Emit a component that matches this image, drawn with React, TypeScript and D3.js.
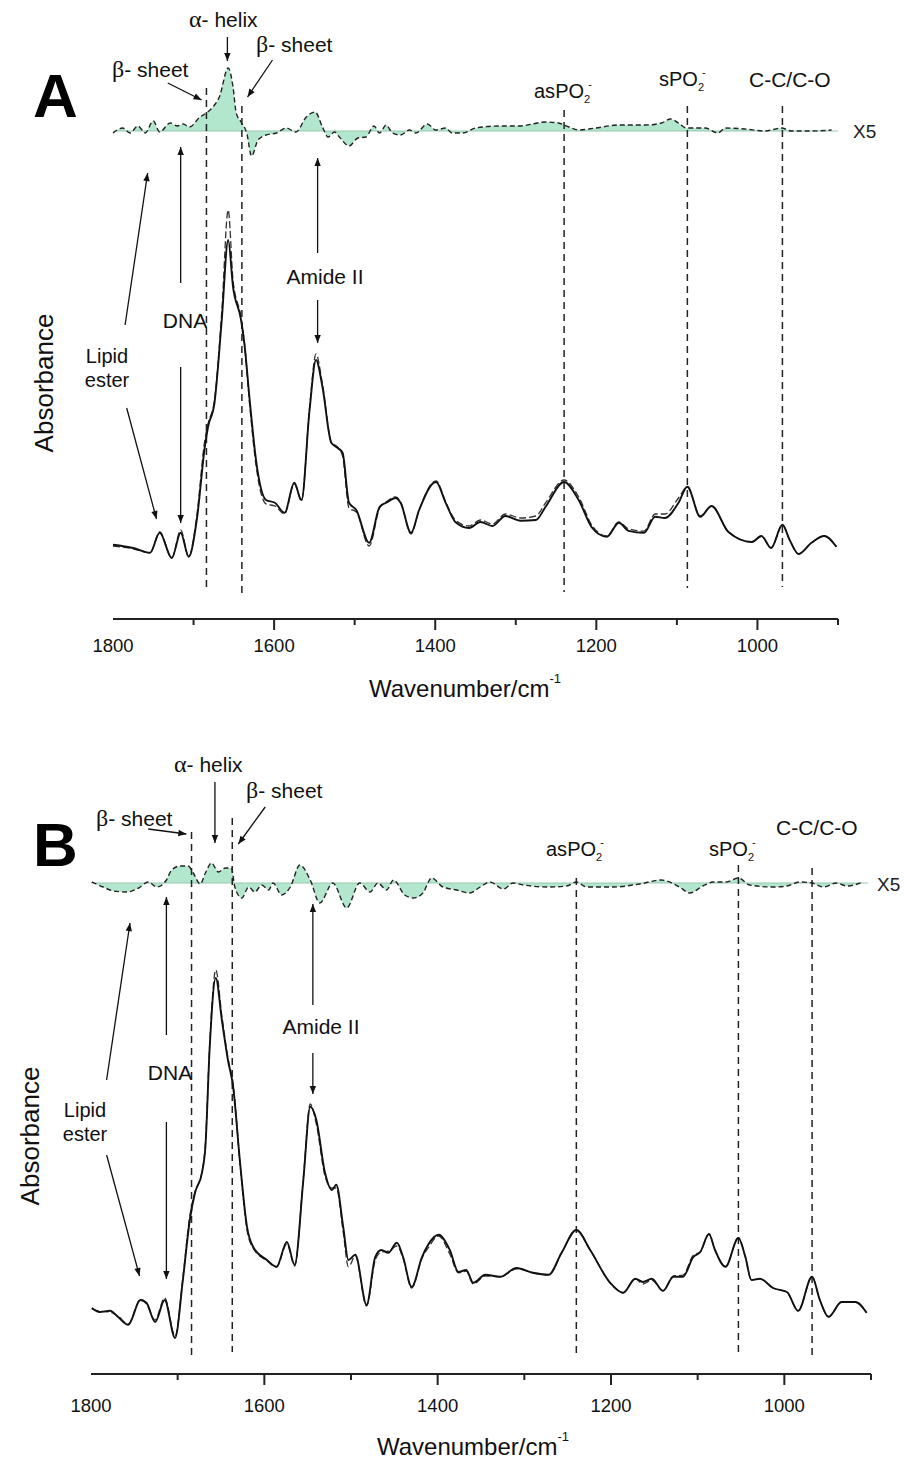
import React from "react";
import * as d3 from "d3";

type P = [number, number];

// x-axis ticks (wavenumber, cm-1)
const majorTicks = [1800, 1600, 1400, 1200, 1000];
const minorTicks = [1700, 1500, 1300, 1100, 900];

// Panel A: absorbance spectra (solid = control, dashed = treated)
const specA_solid: P[] = [
  [1800, 0.138], [1775, 0.13], [1754, 0.118], [1742, 0.168], [1727, 0.105], [1716, 0.168], [1706, 0.108],
  [1696, 0.2], [1686, 0.383], [1682, 0.433], [1674, 0.493], [1665, 0.7], [1657, 0.9], [1651, 0.783],
  [1641, 0.7], [1637, 0.643], [1630, 0.493], [1622, 0.343], [1610, 0.25], [1599, 0.243], [1587, 0.218],
  [1575, 0.293], [1566, 0.25], [1556, 0.475], [1548, 0.6], [1540, 0.533], [1529, 0.393], [1521, 0.38],
  [1515, 0.368], [1507, 0.243], [1498, 0.225], [1482, 0.143], [1469, 0.233], [1461, 0.243], [1449, 0.255],
  [1443, 0.243], [1430, 0.168], [1420, 0.225], [1399, 0.295], [1387, 0.243], [1375, 0.195], [1358, 0.18],
  [1344, 0.195], [1329, 0.185], [1313, 0.21], [1294, 0.198], [1275, 0.2], [1263, 0.233], [1240, 0.295],
  [1222, 0.25], [1205, 0.18], [1187, 0.158], [1172, 0.193], [1160, 0.173], [1141, 0.168], [1127, 0.208],
  [1115, 0.205], [1098, 0.243], [1087, 0.283], [1071, 0.208], [1057, 0.235], [1036, 0.17], [1007, 0.145],
  [995, 0.16], [983, 0.13], [969, 0.188], [960, 0.15], [949, 0.115], [933, 0.143], [917, 0.16], [902, 0.133],
];
const specA_dashed: P[] = [
  [1800, 0.135], [1775, 0.128], [1754, 0.118], [1742, 0.17], [1727, 0.105], [1716, 0.175], [1706, 0.108],
  [1696, 0.21], [1686, 0.4], [1682, 0.44], [1674, 0.5], [1665, 0.72], [1657, 0.975], [1651, 0.8],
  [1641, 0.705], [1637, 0.645], [1630, 0.48], [1622, 0.33], [1610, 0.24], [1599, 0.235], [1587, 0.215],
  [1575, 0.29], [1566, 0.248], [1556, 0.48], [1548, 0.615], [1540, 0.54], [1529, 0.395], [1521, 0.382],
  [1515, 0.36], [1507, 0.23], [1498, 0.22], [1482, 0.135], [1469, 0.23], [1461, 0.245], [1449, 0.258],
  [1443, 0.245], [1430, 0.165], [1420, 0.225], [1399, 0.298], [1387, 0.245], [1375, 0.2], [1358, 0.185],
  [1344, 0.2], [1329, 0.19], [1313, 0.215], [1294, 0.205], [1275, 0.21], [1263, 0.243], [1240, 0.3],
  [1222, 0.258], [1205, 0.185], [1187, 0.16], [1172, 0.195], [1160, 0.178], [1141, 0.172], [1127, 0.215],
  [1115, 0.215], [1098, 0.255], [1087, 0.283], [1071, 0.21], [1057, 0.235], [1036, 0.17], [1007, 0.145],
  [995, 0.16], [983, 0.13], [969, 0.188], [960, 0.15], [949, 0.115], [933, 0.143], [917, 0.16], [902, 0.133],
];
// Panel A: second derivative difference (x5)
const derivA: P[] = [
  [1800, -0.2], [1788, 0.3], [1779, -0.2], [1769, 0.5], [1760, -0.2], [1750, 1.0], [1742, -0.1], [1729, 0.8],
  [1720, 0.5], [1713, 0.7], [1705, 0.4], [1692, 1.4], [1684, 1.8], [1674, 2.6], [1668, 3.4], [1657, 6.3],
  [1651, 4.4], [1647, 1.8], [1641, 0.9], [1634, -0.2], [1628, -2.5], [1620, -0.9], [1610, -0.4], [1597, -0.2],
  [1585, 0.3], [1573, -0.1], [1560, 1.4], [1549, 1.9], [1540, 0.4], [1533, -0.6], [1525, -0.1], [1519, -0.6],
  [1507, -1.5], [1496, -0.7], [1486, -0.6], [1476, 0.5], [1469, -0.2], [1461, 0.6], [1453, -0.2], [1443, -0.4],
  [1432, 0.1], [1424, -0.2], [1410, 0.7], [1399, 0.1], [1387, 0.3], [1379, -0.2], [1366, -0.2], [1350, 0.3],
  [1321, 0.5], [1296, 0.5], [1263, 0.9], [1247, 0.8], [1234, 0.4], [1222, 0.1], [1201, 0.3], [1172, 0.6],
  [1139, 0.6], [1119, 0.8], [1108, 1.2], [1098, 0.8], [1088, 0.3], [1065, 0.3], [1049, -0.2], [1040, 0.3],
  [1016, 0.2], [991, 0.0], [970, 0.3], [958, 0.0], [933, 0.0], [908, 0.1],
];
const bandsA = [1684, 1640, 1240, 1087, 969];

// Panel B
const specB_solid: P[] = [
  [1799, 0.13], [1790, 0.12], [1778, 0.123], [1769, 0.108], [1757, 0.088], [1743, 0.15], [1736, 0.143],
  [1726, 0.095], [1715, 0.15], [1703, 0.055], [1694, 0.2], [1686, 0.35], [1680, 0.418], [1672, 0.468],
  [1668, 0.533], [1663, 0.783], [1656, 0.955], [1649, 0.85], [1642, 0.75], [1636, 0.683], [1628, 0.493],
  [1620, 0.333], [1613, 0.283], [1597, 0.25], [1586, 0.233], [1574, 0.295], [1565, 0.238], [1555, 0.45],
  [1547, 0.633], [1540, 0.6], [1530, 0.468], [1522, 0.425], [1517, 0.438], [1509, 0.333], [1503, 0.25],
  [1495, 0.263], [1482, 0.138], [1472, 0.258], [1465, 0.275], [1457, 0.268], [1447, 0.293], [1440, 0.258],
  [1430, 0.183], [1418, 0.258], [1411, 0.288], [1399, 0.313], [1386, 0.275], [1376, 0.22], [1367, 0.225],
  [1359, 0.193], [1345, 0.213], [1328, 0.208], [1309, 0.23], [1290, 0.218], [1272, 0.213], [1257, 0.268],
  [1240, 0.325], [1224, 0.275], [1201, 0.193], [1186, 0.168], [1172, 0.203], [1163, 0.195], [1153, 0.203],
  [1140, 0.173], [1128, 0.208], [1117, 0.208], [1105, 0.258], [1097, 0.27], [1087, 0.315], [1080, 0.275],
  [1068, 0.233], [1053, 0.305], [1045, 0.258], [1038, 0.2], [1028, 0.203], [1013, 0.18], [997, 0.17],
  [984, 0.123], [968, 0.208], [959, 0.15], [949, 0.108], [934, 0.145], [918, 0.145], [905, 0.118],
];
const specB_dashed: P[] = [
  [1799, 0.128], [1790, 0.122], [1778, 0.12], [1769, 0.11], [1757, 0.09], [1743, 0.152], [1736, 0.14],
  [1726, 0.1], [1715, 0.155], [1703, 0.06], [1694, 0.205], [1686, 0.36], [1680, 0.42], [1672, 0.47],
  [1668, 0.54], [1663, 0.79], [1656, 0.975], [1649, 0.86], [1642, 0.755], [1636, 0.69], [1628, 0.49],
  [1620, 0.325], [1613, 0.28], [1597, 0.248], [1586, 0.232], [1574, 0.29], [1565, 0.235], [1555, 0.455],
  [1547, 0.64], [1540, 0.59], [1530, 0.46], [1522, 0.43], [1517, 0.43], [1509, 0.32], [1503, 0.233],
  [1495, 0.26], [1482, 0.135], [1472, 0.25], [1465, 0.27], [1457, 0.272], [1447, 0.285], [1440, 0.255],
  [1430, 0.18], [1418, 0.255], [1411, 0.28], [1399, 0.31], [1386, 0.265], [1376, 0.218], [1367, 0.222],
  [1359, 0.19], [1345, 0.21], [1328, 0.208], [1309, 0.228], [1290, 0.218], [1272, 0.213], [1257, 0.268],
  [1240, 0.325], [1224, 0.275], [1201, 0.193], [1186, 0.168], [1172, 0.203], [1163, 0.19], [1153, 0.2],
  [1140, 0.173], [1128, 0.21], [1117, 0.212], [1105, 0.262], [1097, 0.27], [1087, 0.315], [1080, 0.275],
  [1068, 0.233], [1053, 0.305], [1045, 0.258], [1038, 0.2], [1028, 0.203], [1013, 0.18], [997, 0.17],
  [984, 0.123], [968, 0.208], [959, 0.15], [949, 0.108], [934, 0.145], [918, 0.145], [905, 0.118],
];
const derivB: P[] = [
  [1799, 0.1], [1786, -0.4], [1774, -0.8], [1759, -0.9], [1745, -0.5], [1734, 0.1], [1724, -0.4], [1713, 0.3],
  [1707, 1.3], [1697, 1.7], [1688, 1.7], [1682, 1.0], [1674, -0.1], [1668, 1.0], [1661, 2.0], [1653, 1.1],
  [1645, 1.5], [1638, 1.5], [1634, -0.4], [1626, -1.5], [1618, -0.4], [1611, -0.9], [1603, -0.2], [1595, -0.7],
  [1590, 0.0], [1580, -1.2], [1570, -0.4], [1559, 1.8], [1547, 0.3], [1536, -2.0], [1521, 0.0], [1505, -2.5],
  [1490, 0.0], [1478, -0.9], [1469, 0.0], [1459, -0.7], [1451, 0.3], [1438, -1.2], [1428, -1.5], [1417, -1.0],
  [1407, 0.5], [1394, -0.4], [1378, -0.7], [1363, -1.0], [1351, -0.4], [1340, 0.1], [1324, -0.6], [1313, 0.0],
  [1301, -0.2], [1274, -0.4], [1251, -0.3], [1240, 0.1], [1228, -0.4], [1197, -0.4], [1167, -0.1], [1142, 0.3],
  [1121, -0.4], [1109, -1.0], [1094, -0.3], [1082, 0.1], [1067, 0.1], [1053, 0.5], [1040, -0.2], [1013, -0.4],
  [997, -0.3], [982, 0.1], [968, 0.0], [955, -0.4], [940, 0.0], [928, -0.3], [909, 0.1],
];
const bandsB = [1684, 1637, 1240, 1053, 968];

const SANS = "'Liberation Sans', Arial, sans-serif";
const SERIF = "'Liberation Serif', 'DejaVu Serif', serif";
const FILL = "#b2e6cd";

type Arrow = { w1: number; y1: number; w2: number; y2: number };

const layoutA = {
  letter: "A", letterXY: [33, 117],
  xRange: [113, 838], axisY: 619, specRange: [600, 200], zeroY: 131, zeroEnd: 838,
  x5: [853, 138], yLabel: [53, 383], xLabel: [465, 697], tickLabelY: 652,
  bandY: [[88, 592], [106, 598], [110, 592], [106, 588], [106, 587]],
  alpha: [189, 27], betaL: [112, 77], betaR: [256, 52],
  asPO: [534, 98], sPO: [659, 86], cc: [749, 87],
  lipid: [107, 363], dna: [185, 328], amide: [325, 284],
  arrows: [
    { w1: 1732, y1: 83, w2: 1690, y2: 100 },
    { w1: 1658, y1: 37, w2: 1658, y2: 61 },
    { w1: 1602, y1: 60, w2: 1633, y2: 97 },
    { w1: 1716, y1: 283, w2: 1716, y2: 147 },
    { w1: 1716, y1: 367, w2: 1716, y2: 523 },
    { w1: 1785, y1: 325, w2: 1757, y2: 173 },
    { w1: 1783, y1: 408, w2: 1746, y2: 519 },
    { w1: 1546, y1: 253, w2: 1546, y2: 158 },
    { w1: 1546, y1: 300, w2: 1546, y2: 343 },
  ] as Arrow[],
};
const layoutB = {
  letter: "B", letterXY: [33, 866],
  xRange: [91, 871], axisY: 1374, specRange: [1360, 960], zeroY: 883, zeroEnd: 868,
  x5: [877, 891], yLabel: [39, 1136], xLabel: [473, 1455], tickLabelY: 1412,
  bandY: [[832, 1358], [818, 1352], [878, 1355], [865, 1355], [868, 1356]],
  alpha: [174, 772], betaL: [96, 826], betaR: [246, 798],
  asPO: [546, 856], sPO: [709, 856], cc: [776, 835],
  lipid: [85, 1117], dna: [170, 1080], amide: [321, 1034],
  arrows: [
    { w1: 1734, y1: 829, w2: 1690, y2: 834 },
    { w1: 1657, y1: 782, w2: 1657, y2: 843 },
    { w1: 1599, y1: 807, w2: 1630, y2: 844 },
    { w1: 1713, y1: 1035, w2: 1713, y2: 897 },
    { w1: 1713, y1: 1122, w2: 1713, y2: 1279 },
    { w1: 1782, y1: 1080, w2: 1755, y2: 923 },
    { w1: 1782, y1: 1155, w2: 1744, y2: 1276 },
    { w1: 1544, y1: 1005, w2: 1544, y2: 904 },
    { w1: 1544, y1: 1053, w2: 1544, y2: 1094 },
  ] as Arrow[],
};

function PO({ x, y, pre }: { x: number; y: number; pre: string }) {
  return (
    <text x={x} y={y} fontFamily={SANS} fontSize={20} fill="#111">
      {pre}PO
      <tspan fontSize={11} dy={5}>2</tspan>
      <tspan fontSize={11} dx={-2} dy={-15}>-</tspan>
    </text>
  );
}

function Greek({ x, y, g, rest }: { x: number; y: number; g: string; rest: string }) {
  return (
    <text x={x} y={y} fontFamily={SANS} fontSize={21} fill="#111">
      <tspan fontFamily={SERIF} fontSize={24}>{g}</tspan>
      <tspan>{rest}</tspan>
    </text>
  );
}

function Panel({ L, solid, dashed, deriv, bands }: any) {
  const x = d3.scaleLinear().domain([1800, 900]).range(L.xRange);
  const y = d3.scaleLinear().domain([0, 1]).range(L.specRange);
  const yd = d3.scaleLinear().domain([-1, 1]).range([L.zeroY + 10, L.zeroY - 10]);
  const line = d3.line<P>().x((d) => x(d[0])).y((d) => y(d[1])).curve(d3.curveMonotoneX);
  const dline = d3.line<P>().x((d) => x(d[0])).y((d) => yd(d[1])).curve(d3.curveMonotoneX);
  const darea = d3.area<P>().x((d) => x(d[0])).y0(yd(0)).y1((d) => yd(d[1])).curve(d3.curveMonotoneX);
  const marker = `url(#ah)`;
  return (
    <g>
      <text x={L.letterXY[0]} y={L.letterXY[1]} fontFamily={SANS} fontWeight="bold" fontSize={62} fill="#000">{L.letter}</text>
      <path d={darea(deriv) || ""} fill={FILL} stroke="none" />
      <line x1={L.xRange[0]} x2={L.zeroEnd} y1={yd(0)} y2={yd(0)} stroke="#98c9b0" strokeWidth={1} />
      <path d={dline(deriv) || ""} fill="none" stroke="#222" strokeWidth={1.4} strokeDasharray="5 3" />
      <text x={L.x5[0]} y={L.x5[1]} fontFamily={SANS} fontSize={19} fill="#222">X5</text>
      {bands.map((b: number, i: number) => (
        <line key={i} x1={x(b)} x2={x(b)} y1={L.bandY[i][0]} y2={L.bandY[i][1]} stroke="#222" strokeWidth={1.5} strokeDasharray="7 5" />
      ))}
      <path d={line(dashed) || ""} fill="none" stroke="#333" strokeWidth={1.3} strokeDasharray="7 3" />
      <path d={line(solid) || ""} fill="none" stroke="#111" strokeWidth={1.9} />
      <line x1={L.xRange[0]} x2={L.xRange[1]} y1={L.axisY} y2={L.axisY} stroke="#222" strokeWidth={2} />
      {majorTicks.filter((t) => t !== 1800).map((t) => (
        <line key={t} x1={x(t)} x2={x(t)} y1={L.axisY} y2={L.axisY + 11} stroke="#222" strokeWidth={2} />
      ))}
      {minorTicks.map((t) => (
        <line key={t} x1={x(t)} x2={x(t)} y1={L.axisY} y2={L.axisY + 6} stroke="#222" strokeWidth={2} />
      ))}
      {majorTicks.map((t) => (
        <text key={t} x={x(t)} y={L.tickLabelY} textAnchor="middle" fontFamily={SANS} fontSize={18.5} fill="#111">{t}</text>
      ))}
      <text x={L.xLabel[0]} y={L.xLabel[1]} textAnchor="middle" fontFamily={SANS} fontSize={24} fill="#111">
        Wavenumber/cm<tspan fontSize={13} dy={-14}>-1</tspan>
      </text>
      <text transform={`translate(${L.yLabel[0]},${L.yLabel[1]}) rotate(-90)`} textAnchor="middle" fontFamily={SANS} fontSize={26} fill="#111">Absorbance</text>
      <Greek x={L.alpha[0]} y={L.alpha[1]} g="α" rest="- helix" />
      <Greek x={L.betaL[0]} y={L.betaL[1]} g="β" rest="- sheet" />
      <Greek x={L.betaR[0]} y={L.betaR[1]} g="β" rest="- sheet" />
      <PO x={L.asPO[0]} y={L.asPO[1]} pre="as" />
      <PO x={L.sPO[0]} y={L.sPO[1]} pre="s" />
      <text x={L.cc[0]} y={L.cc[1]} fontFamily={SANS} fontSize={21} fill="#111">C-C/C-O</text>
      <text x={L.lipid[0]} y={L.lipid[1]} textAnchor="middle" fontFamily={SANS} fontSize={20} fill="#111">Lipid</text>
      <text x={L.lipid[0]} y={L.lipid[1] + 24} textAnchor="middle" fontFamily={SANS} fontSize={20} fill="#111">ester</text>
      <text x={L.dna[0]} y={L.dna[1]} textAnchor="middle" fontFamily={SANS} fontSize={21} fill="#111">DNA</text>
      <text x={L.amide[0]} y={L.amide[1]} textAnchor="middle" fontFamily={SANS} fontSize={21} fill="#111">Amide II</text>
      {L.arrows.map((a: Arrow, i: number) => (
        <line key={i} x1={x(a.w1)} y1={a.y1} x2={x(a.w2)} y2={a.y2} stroke="#111" strokeWidth={1.3} markerEnd={marker} />
      ))}
    </g>
  );
}

export default function App() {
  return (
    <svg width={904} height={1462} viewBox="0 0 904 1462" style={{ position: "absolute", left: 0, top: 0, background: "#fff" }}>
      <defs>
        <marker id="ah" viewBox="0 0 10 10" refX={10} refY={5} markerWidth={10} markerHeight={8} markerUnits="userSpaceOnUse" orient="auto">
          <path d="M0,1 L10,5 L0,9 z" fill="#111" />
        </marker>
      </defs>
      <rect width={904} height={1462} fill="#fff" />
      <Panel L={layoutA} solid={specA_solid} dashed={specA_dashed} deriv={derivA} bands={bandsA} />
      <Panel L={layoutB} solid={specB_solid} dashed={specB_dashed} deriv={derivB} bands={bandsB} />
    </svg>
  );
}
